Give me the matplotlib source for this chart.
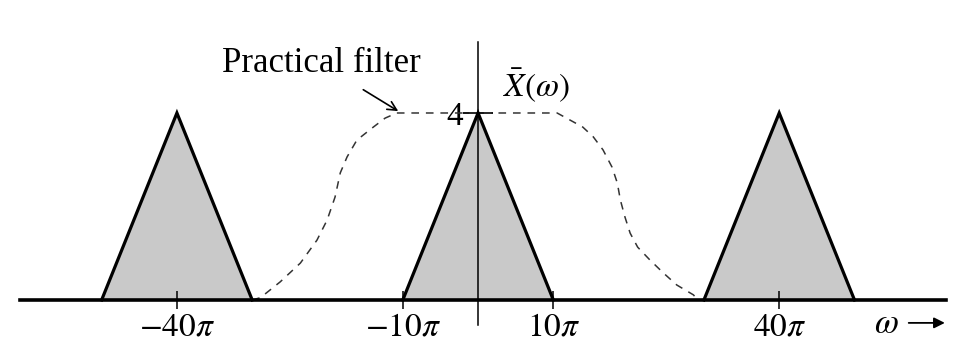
import matplotlib
matplotlib.use("Agg")
import matplotlib.pyplot as plt

plt.rcParams["mathtext.fontset"] = "stix"
plt.rcParams["font.family"] = ["Liberation Serif", "DejaVu Serif"]

# spectrum: triangles centred at 0 and +-40pi (units of pi), half-width 10pi, height 4
centers = [-40, 0, 40]
half_width = 10
peak = 4

# practical filter (dashed), x in units of pi
filt_x = [-30, -28.9, -26.3, -23.6, -21.4, -20.05, -19.0, -18.3, -17.4,
          -16.1, -13.9, -12.35, -10.8, 10.5, 12.2, 13.9, 15.3, 16.6, 17.8,
          18.5, 18.9, 19.5, 20.2, 21.2, 22.8, 24.6, 26.4, 28.6, 29.2]
filt_y = [0, 0.05, 0.385, 0.79, 1.28, 1.71, 2.2, 2.72, 3.06,
          3.42, 3.7, 3.89, 4.0, 4.0, 3.85, 3.7, 3.49, 3.21, 2.84,
          2.5, 2.14, 1.78, 1.43, 1.13, 0.86, 0.58, 0.32, 0.11, 0.0]

tick_pos = [-40, -10, 10, 40]
tick_labels = [r"$-40\pi$", r"$-10\pi$", r"$10\pi$", r"$40\pi$"]

fig = plt.figure(figsize=(9.55, 3.45), dpi=100)
ax = fig.add_axes([0, 0, 1, 1])
ax.set_xlim(-63.5, 63.35)
ax.set_ylim(-0.963, 6.417)

for c in centers:
    xs = [c - half_width, c, c + half_width]
    ys = [0, peak, 0]
    ax.fill(xs, ys, facecolor="#c9c9c9", edgecolor="none", zorder=1)
    ax.plot(xs, ys, color="black", lw=2.3, solid_joinstyle="miter", zorder=3)

ax.plot(filt_x, filt_y, color="#333333", lw=1.1, dashes=(5, 4.5), zorder=2)

# axes through the origin
for side in ["top", "right"]:
    ax.spines[side].set_visible(False)
ax.spines["bottom"].set_position(("data", 0))
ax.spines["bottom"].set_bounds(-60.8, 62.2)
ax.spines["bottom"].set_linewidth(2.6)
ax.spines["left"].set_position(("data", 0))
ax.spines["left"].set_bounds(-0.53, 5.52)
ax.spines["left"].set_linewidth(1.1)

ax.set_xticks(tick_pos)
ax.set_xticklabels(tick_labels, fontsize=24)
ax.tick_params(axis="x", direction="inout", length=13, width=1.1, pad=2)
ax.set_yticks([peak])
ax.set_yticklabels(["4"], fontsize=24)
ax.tick_params(axis="y", direction="inout", length=21, width=1.3, pad=0)

ax.text(7.8, 4.6, r"$\bar{X}(\omega)$", fontsize=24, ha="center", va="center")
ax.annotate("Practical filter", xy=(-10.6, 4.04), xytext=(-20.85, 5.05),
            fontsize=25, ha="center", va="center",
            arrowprops=dict(arrowstyle="->", color="black", lw=1.2,
                            shrinkA=9, shrinkB=0, mutation_scale=16))
ax.text(54.2, -0.52, r"$\omega$", fontsize=25, ha="center", va="center")
ax.annotate("", xy=(62.0, -0.49), xytext=(57.2, -0.49),
            arrowprops=dict(arrowstyle="-|>", color="black", lw=1.3,
                            shrinkA=0, shrinkB=0, mutation_scale=16))

fig.savefig("out.png", dpi=100)
